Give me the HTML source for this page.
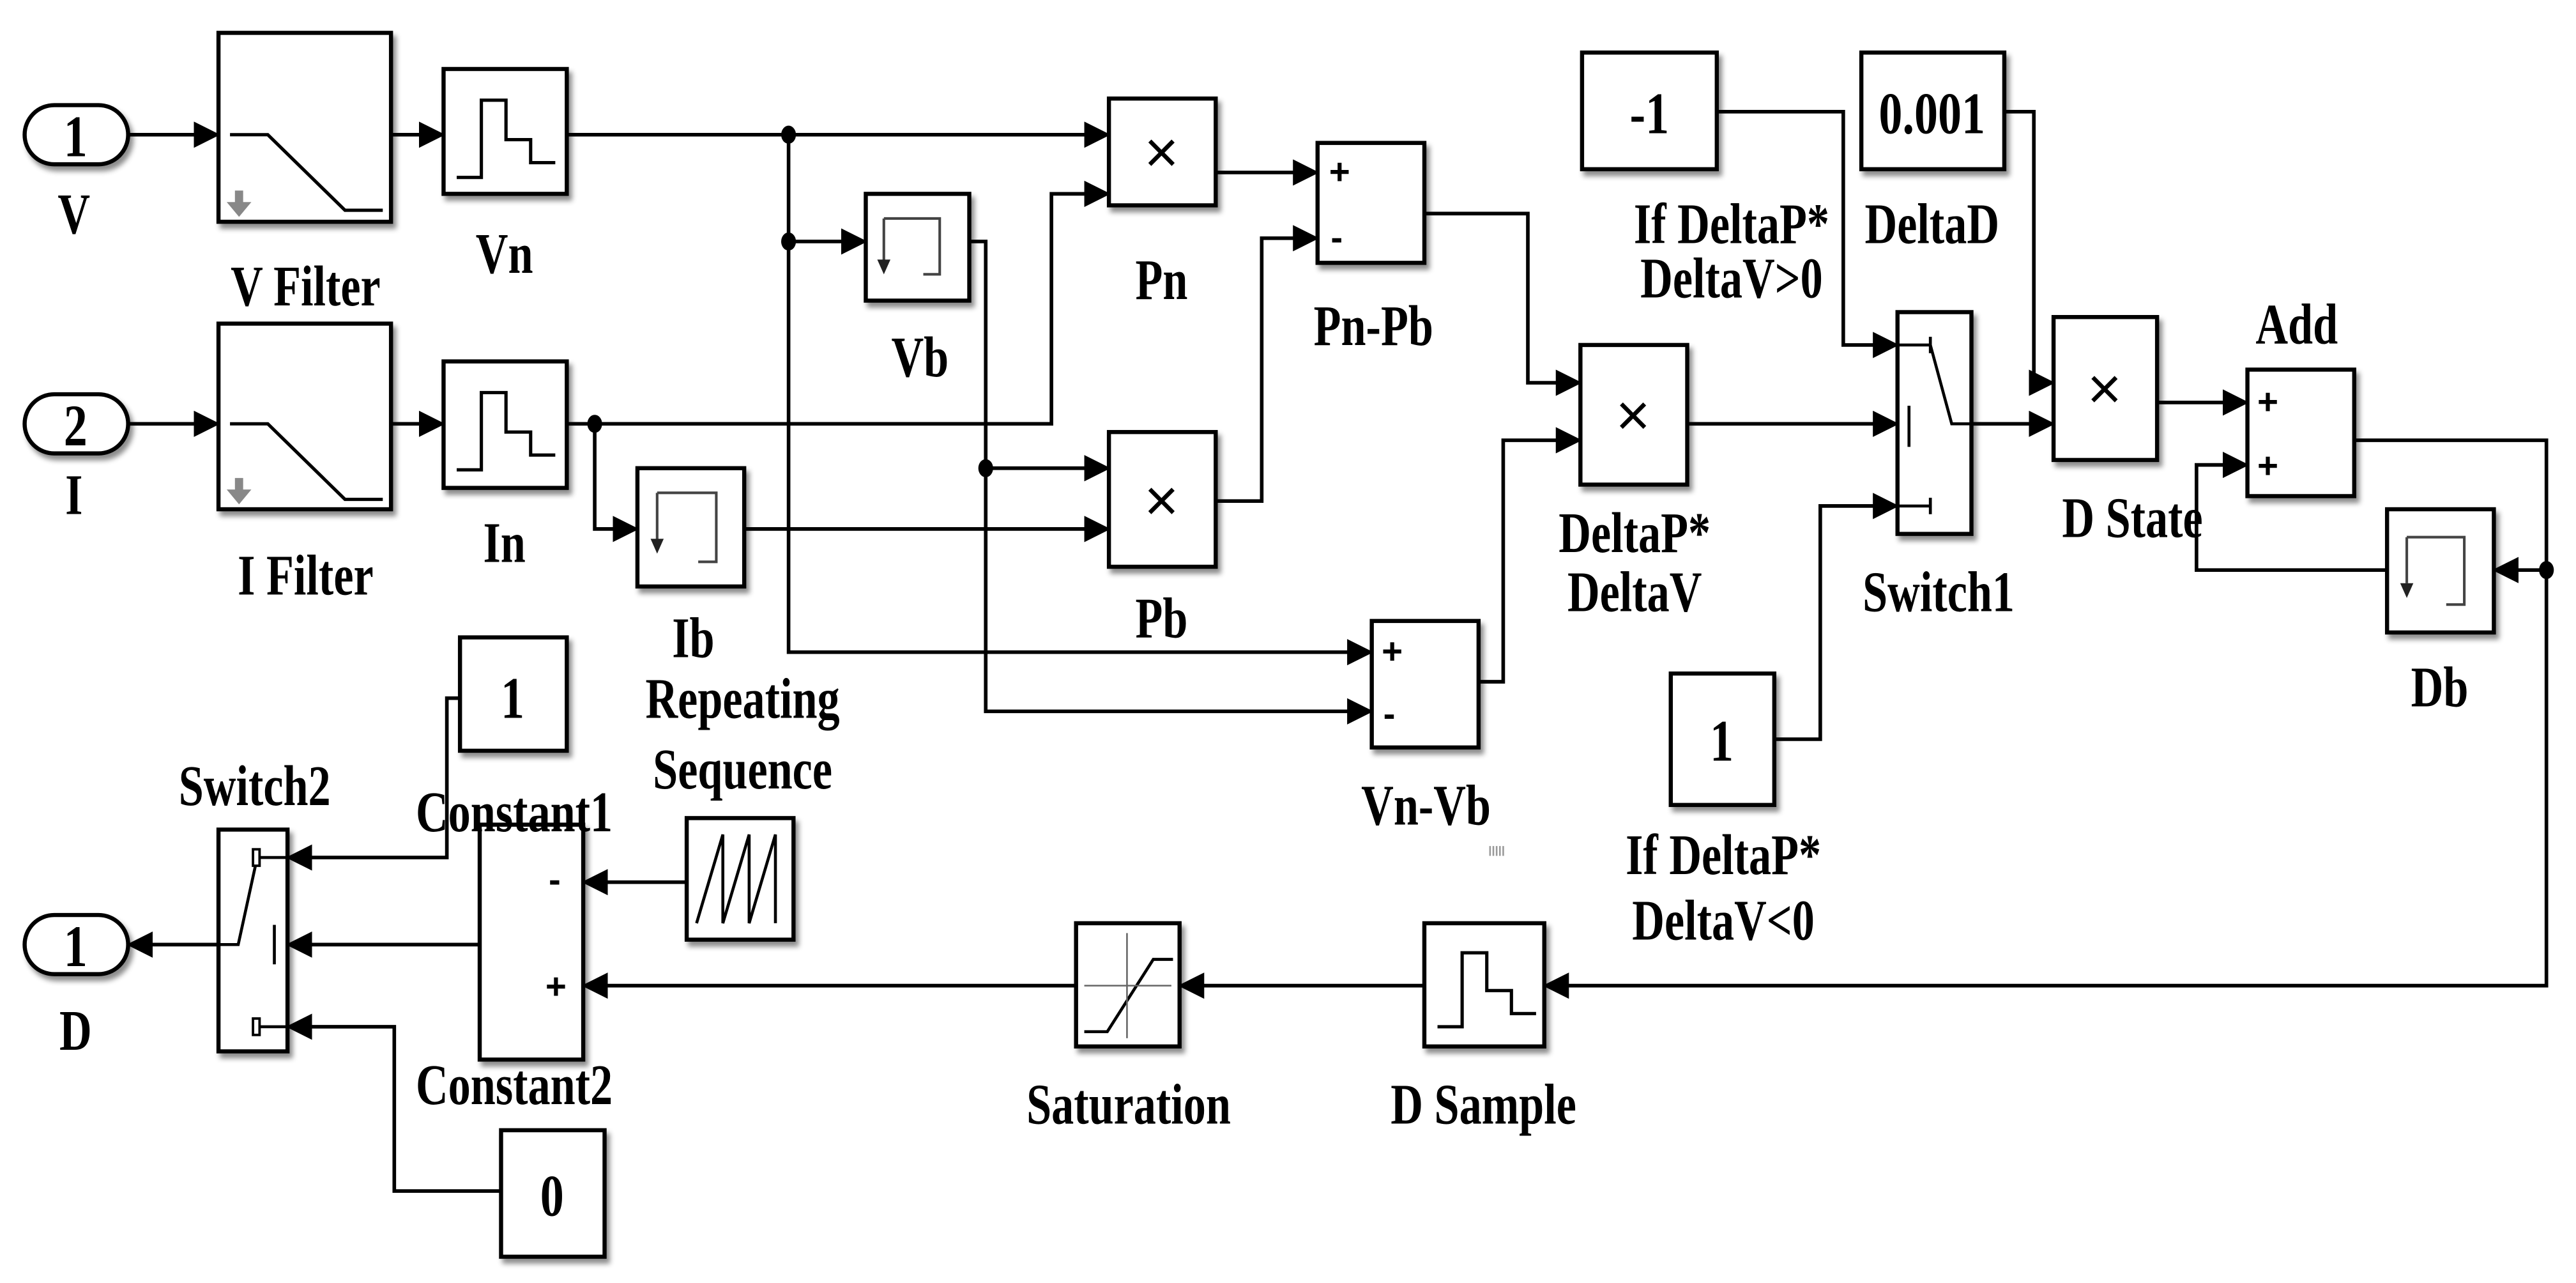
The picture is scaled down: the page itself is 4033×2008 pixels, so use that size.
<!DOCTYPE html>
<html><head><meta charset="utf-8"><style>
html,body{margin:0;padding:0;background:#fff;}
svg{display:block;}
text{font-family:"Liberation Serif",serif;font-weight:bold;fill:#000;}
text.x{font-family:"Liberation Sans",sans-serif;font-weight:normal;font-size:36px;}
text.s{font-family:"Liberation Sans",sans-serif;font-weight:bold;font-size:22px;}
</style></head><body>
<svg width="4033" height="2008" viewBox="0 0 1568 781" preserveAspectRatio="none" xmlns="http://www.w3.org/2000/svg">
<defs>
<marker id="ar" viewBox="0 0 16 16" refX="15" refY="8" markerWidth="16" markerHeight="16" markerUnits="userSpaceOnUse" orient="auto"><path d="M0,0 L16,8 L0,16 Z" fill="#000"/></marker>
<filter id="sh" x="-10%" y="-10%" width="130%" height="130%"><feDropShadow dx="2" dy="3" stdDeviation="1.5" flood-color="#000" flood-opacity="0.45"/></filter>
</defs>
<g fill="#fff" stroke="#000" stroke-width="2.5" filter="url(#sh)">
<rect x="15" y="64" width="63" height="36" rx="18"/>
<rect x="15" y="240" width="63" height="36" rx="18"/>
<rect x="15" y="557" width="63" height="36" rx="18"/>
<rect x="133" y="20" width="105" height="115"/>
<rect x="133" y="197" width="105" height="113"/>
<rect x="270" y="42" width="75" height="76"/>
<rect x="270" y="220" width="75" height="77"/>
<rect x="867" y="562" width="73" height="75"/>
<rect x="527" y="118" width="63" height="65"/>
<rect x="388" y="285" width="65" height="72"/>
<rect x="1453" y="310" width="65" height="75"/>
<rect x="675" y="60" width="65" height="65"/>
<rect x="675" y="263" width="65" height="82"/>
<rect x="962" y="210" width="65" height="85"/>
<rect x="1250" y="193" width="63" height="87"/>
<rect x="802" y="87" width="65" height="73"/>
<rect x="835" y="378" width="65" height="77"/>
<rect x="1368" y="225" width="65" height="77"/>
<rect x="292" y="502" width="63" height="143"/>
<rect x="963" y="32" width="82" height="71"/>
<rect x="1133" y="32" width="87" height="71"/>
<rect x="1017" y="410" width="63" height="80"/>
<rect x="280" y="388" width="65" height="69"/>
<rect x="305" y="688" width="63" height="77"/>
<rect x="1155" y="190" width="45" height="135"/>
<rect x="133" y="505" width="42" height="135"/>
<rect x="655" y="562" width="63" height="75"/>
<rect x="418" y="498" width="65" height="74"/>
</g>

<g fill="none" stroke="#000" stroke-width="2.2">
<path d="M78,82 H133" marker-end="url(#ar)"/>
<path d="M78,258 H133" marker-end="url(#ar)"/>
<path d="M238,82 H270" marker-end="url(#ar)"/>
<path d="M238,258 H270" marker-end="url(#ar)"/>
<path d="M345,82 H675" marker-end="url(#ar)"/>
<path d="M480,82 V397 H835" marker-end="url(#ar)"/>
<path d="M480,147 H527" marker-end="url(#ar)"/>
<path d="M590,147 H600 V433 H835" marker-end="url(#ar)"/>
<path d="M600,285 H675" marker-end="url(#ar)"/>
<path d="M345,258 H640 V118 H675" marker-end="url(#ar)"/>
<path d="M362,258 V322 H388" marker-end="url(#ar)"/>
<path d="M453,322 H675" marker-end="url(#ar)"/>
<path d="M740,105 H802" marker-end="url(#ar)"/>
<path d="M740,305 H768 V145 H802" marker-end="url(#ar)"/>
<path d="M867,130 H930 V233 H962" marker-end="url(#ar)"/>
<path d="M900,415 H915 V268 H962" marker-end="url(#ar)"/>
<path d="M1027,258 H1155" marker-end="url(#ar)"/>
<path d="M1045,68 H1122 V210 H1155" marker-end="url(#ar)"/>
<path d="M1080,450 H1108 V308 H1155" marker-end="url(#ar)"/>
<path d="M1220,68 H1238 V233 H1250" marker-end="url(#ar)"/>
<path d="M1200,258 H1250" marker-end="url(#ar)"/>
<path d="M1313,245 H1368" marker-end="url(#ar)"/>
<path d="M1453,347 H1337 V283 H1368" marker-end="url(#ar)"/>
<path d="M1433,268 H1550 V600 H940" marker-end="url(#ar)"/>
<path d="M1550,347 H1518" marker-end="url(#ar)"/>
<path d="M867,600 H718" marker-end="url(#ar)"/>
<path d="M655,600 H355" marker-end="url(#ar)"/>
<path d="M418,537 H355" marker-end="url(#ar)"/>
<path d="M292,575 H175" marker-end="url(#ar)"/>
<path d="M280,425 H272 V522 H175" marker-end="url(#ar)"/>
<path d="M305,725 H240 V625 H175" marker-end="url(#ar)"/>
<path d="M133,575 H78" marker-end="url(#ar)"/>
</g>
<g fill="#000">
<ellipse cx="480" cy="82" rx="4.5" ry="5.5"/>
<ellipse cx="480" cy="147" rx="4.5" ry="5.5"/>
<ellipse cx="600" cy="285" rx="4.5" ry="5.5"/>
<ellipse cx="362" cy="258" rx="4.5" ry="5.5"/>
<ellipse cx="1550" cy="347" rx="4.5" ry="5.5"/>
</g>

<g fill="none" stroke="#000" stroke-width="2">
<path d="M140,82 H163 L210,128 H233"/>
<path d="M140,258 H163 L210,304 H233"/>
<path d="M278,108 H293 V61 H308 V85 H323 V99 H338"/>
<path d="M278,286 H293 V239 H308 V263 H323 V277 H338"/>
<path d="M875,625 H890 V580 H905 V603 H920 V617 H935"/>
<path d="M660,628 H674 L702,584 H714" stroke-width="1.8"/>
<path d="M660,600 H713 M686,568 V632" stroke="#666" stroke-width="1"/>
<path d="M424,562 L440,508 V562 L456,508 V562 L472,508 V562" stroke-width="1.8"/>
</g>
<g fill="none" stroke="#444" stroke-width="1.6">
<path d="M538,133 H572 V167 H562"/><path d="M538,133 V160"/>
<path d="M400,300 H436 V342 H425"/><path d="M400,300 V330"/>
<path d="M1465,327 H1500 V368 H1489"/><path d="M1465,327 V355"/>
</g>
<g fill="#222">
<path d="M534,158 L542,158 L538,167Z"/><path d="M396,328 L404,328 L400,337Z"/><path d="M1461,355 L1469,355 L1465,364Z"/>
</g>
<g fill="#888"><path d="M138,123 h5 v-7 h5 v7 h5 l-7.5,9z"/><path d="M138,298 h5 v-7 h5 v7 h5 l-7.5,9z"/></g>
<g fill="none" stroke="#000" stroke-width="1.8">
<path d="M1155,210 H1175 M1175,205 V215 M1155,308 H1175 M1175,303 V313 M1162,247 V272 M1175,210 L1188,258 H1200"/>
<path d="M175,522 H158 M175,625 H158 M167,563 V587 M157,520 L145,575 H133"/>
</g>
<g fill="#fff" stroke="#000" stroke-width="1.5"><rect x="154" y="517" width="4" height="10"/><rect x="154" y="620" width="4" height="10"/></g>
<text class="x" x="707" y="105" text-anchor="middle">×</text>
<text class="x" x="707" y="317" text-anchor="middle">×</text>
<text class="x" x="994" y="265" text-anchor="middle">×</text>
<text class="x" x="1281" y="249" text-anchor="middle">×</text>
<text class="s" x="809" y="112">+</text><text class="s" x="810" y="152">-</text>
<text class="s" x="841" y="404">+</text><text class="s" x="842" y="442">-</text>
<text class="s" x="1374" y="252">+</text><text class="s" x="1374" y="291">+</text>
<text class="s" x="334" y="543">-</text><text class="s" x="332" y="608">+</text>

<g font-size="36" text-anchor="middle">
<text transform="translate(46,95) scale(.8 1)">1</text>
<text transform="translate(46,271) scale(.8 1)">2</text>
<text transform="translate(46,588) scale(.8 1)">1</text>
<text transform="translate(1004,81) scale(.8 1)">-1</text>
<text transform="translate(1176,81) scale(.8 1)">0.001</text>
<text transform="translate(1048,463) scale(.8 1)">1</text>
<text transform="translate(312,437) scale(.8 1)">1</text>
<text transform="translate(336,740) scale(.8 1)">0</text>
</g>
<g font-size="35" text-anchor="middle">
<text transform="translate(45,142) scale(.78 1)">V</text>
<text transform="translate(45,313) scale(.78 1)">I</text>
<text transform="translate(46,639) scale(.78 1)">D</text>
<text transform="translate(186,186) scale(.78 1)">V Filter</text>
<text transform="translate(186,362) scale(.78 1)">I Filter</text>
<text transform="translate(307,166) scale(.78 1)">Vn</text>
<text transform="translate(307,342) scale(.78 1)">In</text>
<text transform="translate(422,400) scale(.78 1)">Ib</text>
<text transform="translate(560,229) scale(.78 1)">Vb</text>
<text transform="translate(707,182) scale(.78 1)">Pn</text>
<text transform="translate(707,388) scale(.78 1)">Pb</text>
<text transform="translate(836,210) scale(.78 1)">Pn-Pb</text>
<text transform="translate(868,502) scale(.78 1)">Vn-Vb</text>
<text transform="translate(1054,148) scale(.78 1)">If DeltaP*</text>
<text transform="translate(1054,181) scale(.78 1)">DeltaV&gt;0</text>
<text transform="translate(1176,148) scale(.78 1)">DeltaD</text>
<text transform="translate(995,336) scale(.78 1)">DeltaP*</text>
<text transform="translate(995,372) scale(.78 1)">DeltaV</text>
<text transform="translate(1398,209) scale(.78 1)">Add</text>
<text transform="translate(1298,327) scale(.78 1)">D State</text>
<text transform="translate(1180,372) scale(.78 1)">Switch1</text>
<text transform="translate(1485,430) scale(.78 1)">Db</text>
<text transform="translate(1049,532) scale(.78 1)">If DeltaP*</text>
<text transform="translate(1049,572) scale(.78 1)">DeltaV&lt;0</text>
<text transform="translate(452,437) scale(.78 1)">Repeating</text>
<text transform="translate(452,480) scale(.78 1)">Sequence</text>
<text transform="translate(155,490) scale(.78 1)">Switch2</text>
<text transform="translate(313,506) scale(.78 1)">Constant1</text>
<text transform="translate(313,672) scale(.78 1)">Constant2</text>
<text transform="translate(687,684) scale(.78 1)">Saturation</text>
<text transform="translate(903,684) scale(.78 1)">D Sample</text>
</g>
<g stroke="#999" stroke-width="1"><path d="M907,515 v6 M909,515 v6 M911,515 v6 M913,515 v6 M915,515 v6"/></g>
</svg>
</body></html>
